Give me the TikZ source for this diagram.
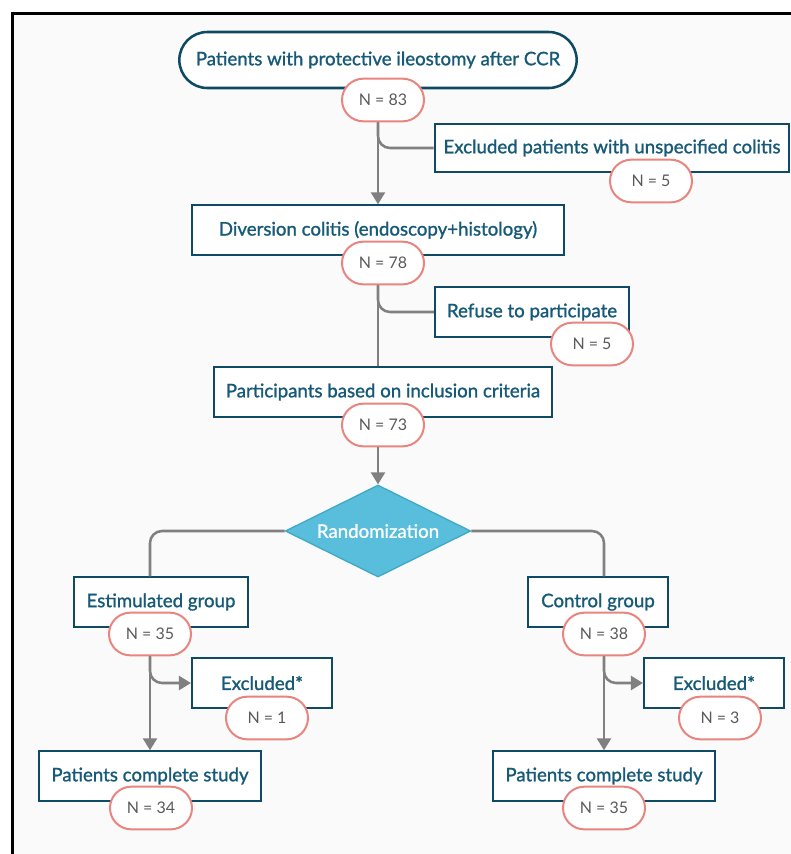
\documentclass[tikz,border=0pt]{standalone}
\usepackage{fontspec}
\setmainfont{Lato}
\newfontfamily\boxfont{Lato}[FakeBold=1.2]
\usetikzlibrary{shapes.geometric,arrows.meta}

\definecolor{boxline}{HTML}{0E4A63}
\definecolor{boxtext}{HTML}{165A78}
\definecolor{pillline}{HTML}{E8857F}
\definecolor{pilltext}{HTML}{5A5A5A}
\definecolor{diafill}{HTML}{58BEDB}
\definecolor{dialine}{HTML}{3FA9C6}
\definecolor{linkgray}{HTML}{808080}
\definecolor{paper}{HTML}{FAFAFA}

\begin{document}
\begin{tikzpicture}[x=0.75pt, y=-0.75pt,
    box/.style={draw=boxline, line width=1.6pt, fill=white, text=boxtext,
        font=\boxfont\fontsize{14}{17}\selectfont, minimum height=37pt, inner sep=0pt},
    count/.style={draw=pillline, line width=1.5pt, fill=white, text=pilltext,
        font=\fontsize{12}{15}\selectfont, rounded corners=16pt,
        minimum width=61.5pt, minimum height=32pt, inner sep=0pt},
    link/.style={draw=linkgray, line width=1.9pt, rounded corners=9pt},
    arrow/.style={link, -{Triangle[width=10.5pt,length=9pt]}}]

    \useasboundingbox (0,0) rectangle (791,854);
    \fill[paper] (12,13) rectangle (791,854);
    \draw[line width=2.25pt] (12,854) -- (12,13) -- (791,13);

    {
        \node[box, rounded corners=21pt, line width=1.9pt, minimum width=298pt, minimum height=42pt] (start) at (378, 60) {Patients with protective ileostomy after CCR};
        \node[box, minimum width=266pt, minimum height=36pt] (unspec) at (612, 148) {Excluded patients with unspecified colitis};
        \node[box, minimum width=279pt] (divers) at (378, 230) {Diversion colitis (endoscopy+histology)};
        \node[box, minimum width=145.5pt] (refuse) at (532, 312) {Refuse to participate};
        \node[box, minimum width=253pt] (incl) at (383, 392) {Participants based on inclusion criteria};

        \node[shape=diamond, aspect=2.2, draw=dialine, line width=1pt, fill=diafill, text=white,
            font=\boxfont\fontsize{14}{17}\selectfont, inner sep=0pt,
            minimum width=139pt, minimum height=69pt] (rand) at (378, 531) {Randomization};

        \node[box, minimum width=130pt] (estim) at (161, 602) {Estimulated group};
        \node[box, minimum width=105pt] (contr) at (598, 602) {Control group};
        \node[box, minimum width=105pt] (exclL) at (262, 683) {Excluded*};
        \node[box, minimum width=105pt] (exclR) at (714, 683) {Excluded*};
        \node[box, minimum width=166pt] (doneL) at (150, 776) {Patients complete study};
        \node[box, minimum width=166pt] (doneR) at (604, 776) {Patients complete study};
    }

    {
        \node[count] (n83) at (383, 100) {N = 83};
        \node[count] (n5a) at (651, 181) {N = 5};
        \node[count] (n78) at (383, 263) {N = 78};
        \node[count] (n5b) at (592, 344) {N = 5};
        \node[count] (n73) at (383, 425) {N = 73};
        \node[count] (n35) at (150, 634) {N = 35};
        \node[count] (n38) at (604, 634) {N = 38};
        \node[count] (n1) at (267, 718) {N = 1};
        \node[count] (n3) at (720, 718) {N = 3};
        \node[count] (n34) at (151, 808) {N = 34};
        \node[count] (n35b) at (604, 808) {N = 35};
    }

    \draw[arrow] (start.south |- n83.south) -- (divers.north);
    \draw[link] (start.south |- n83.south) |- (unspec.west);
    \draw[link] (divers.south |- n78.south) -- (divers.south |- incl.north);
    \draw[link] (divers.south |- n78.south) |- (refuse.west);
    \draw[arrow] (rand.north |- n73.south) -- (rand.north);

    \draw[link] (rand.west) -| (n35 |- estim.north);
    \draw[link] (rand.east) -| (n38 |- contr.north);

    \draw[arrow] (n35.south) -- (doneL.north);
    \draw[arrow] (n35.south) |- (exclL.west);
    \draw[arrow] (n38.south) -- (doneR.north);
    \draw[arrow] (n38.south) |- (exclR.west);

\end{tikzpicture}
\end{document}
